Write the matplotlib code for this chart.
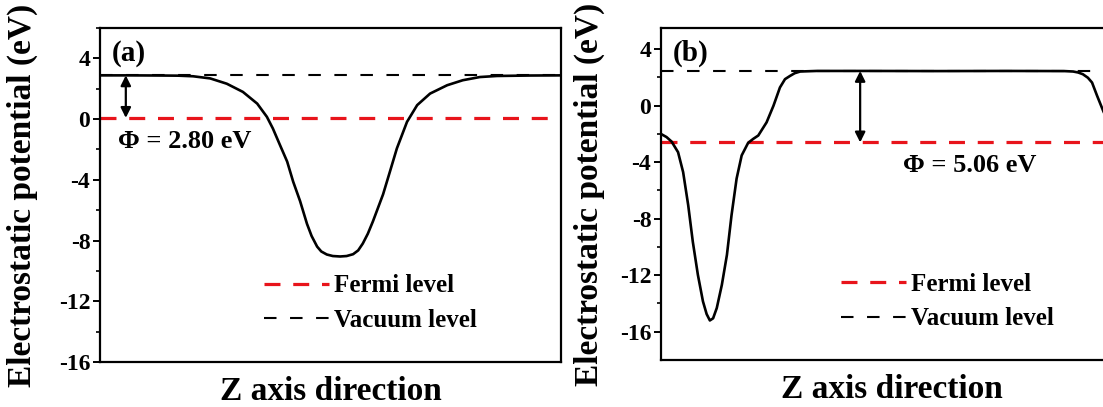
import matplotlib
matplotlib.use("Agg")
import matplotlib.pyplot as plt
from matplotlib.lines import Line2D

# ---------------- data ----------------
# panel (a)
xa = [0, 6.5, 13.0, 17.0, 20.2, 23.9, 27.5, 31.0, 34.1, 36.2, 37.5, 39.0, 40.6, 41.9,
      43.4, 44.9, 45.9, 47.1, 48.0, 49.2, 50.5, 52.1, 53.5, 54.9, 56.0, 57.0, 58.1,
      59.2, 61.4, 62.9, 64.4, 66.6, 68.8, 71.6, 75.3, 78.7, 82.4, 86.1, 93.3, 100]
ya = [2.88, 2.88, 2.87, 2.86, 2.82, 2.68, 2.33, 1.79, 1.02, 0.15, -0.62, -1.68, -2.80,
      -4.12, -5.40, -6.90, -7.70, -8.40, -8.72, -8.92, -9.02, -9.05, -9.02, -8.90,
      -8.65, -8.20, -7.55, -6.74, -4.96, -3.45, -1.93, -0.18, 0.92, 1.68, 2.23, 2.56,
      2.77, 2.84, 2.87, 2.88]
fermi_a = 0.08
vac_a = 2.88
phi_a = "Φ = 2.80 eV"

# panel (b)
xb = [0, 1.2, 2.3, 3.7, 4.8, 5.9, 6.9, 8.0, 9.1, 9.9, 10.6, 11.3, 12.1, 13.2, 14.3,
      15.3, 16.4, 17.5, 18.9, 20.0, 21.1, 22.9, 24.4, 25.8, 26.9, 28.0, 29.0, 30.2,
      33.8, 45.0, 60.0, 75.0, 87.5, 89.4, 90.5, 91.5, 92.6, 93.5, 94.6, 95.9, 97.0]
yb = [-2.0, -2.22, -2.54, -3.29, -4.70, -7.04, -9.63, -11.97, -13.85, -14.75, -15.20,
      -15.05, -14.32, -12.68, -10.56, -7.75, -5.16, -3.52, -2.63, -2.35, -2.11, -1.18,
      0.0, 1.29, 1.88, 2.11, 2.30, 2.42, 2.46, 2.46, 2.45, 2.46, 2.45, 2.42, 2.35, 2.23,
      1.98, 1.64, 0.70, -0.35, -1.2]
fermi_b = -2.60
vac_b = 2.46
phi_b = "Φ = 5.06 eV"

yticks_a = [4, 0, -4, -8, -12, -16]
yticks_b = [4, 0, -4, -8, -12, -16]
legend_labels = ["Fermi level", "Vacuum level"]
xlabel = "Z axis direction"
ylabel = "Electrostatic potential (eV)"

# ---------------- style ----------------
plt.rcParams['font.family'] = ['Liberation Serif', 'DejaVu Serif']
plt.rcParams['font.weight'] = 'bold'

W, H = 1103, 407
fig = plt.figure(figsize=(W / 100, H / 100), dpi=100)
fig.patch.set_facecolor('white')

axa = fig.add_axes([100 / W, (H - 362) / H, 461 / W, 334 / H])
axb = fig.add_axes([661 / W, (H - 360) / H, 461 / W, 332 / H])

RED = '#e8141b'


def style_axis(ax, ylim, yticks):
    ax.set_xlim(0, 100)
    ax.set_ylim(*ylim)
    ax.set_yticks(yticks)
    ax.set_yticklabels([str(t) for t in yticks])
    ax.set_yticks([t + 2 for t in yticks if ylim[0] <= t + 2 <= ylim[1]], minor=True)
    ax.set_xticks([])
    for s in ax.spines.values():
        s.set_linewidth(1.6)
    ax.tick_params(axis='y', which='major', direction='out', length=5, width=1.4,
                   labelsize=17, pad=2)
    ax.tick_params(axis='y', which='minor', direction='out', length=3, width=1.2)
    for lab in ax.get_yticklabels():
        lab.set_fontweight('bold')
    ax.set_xlabel(xlabel, fontsize=24, fontweight='bold', labelpad=10)
    ax.set_ylabel(ylabel, fontsize=24, fontweight='bold', labelpad=4)


def draw_panel(ax, x, y, fermi, vac, phi, label, arrow_x, phi_xy, leg_anchor):
    ax.axhline(fermi, color=RED, lw=2.3, dashes=(5, 4))
    ax.axhline(vac, color='black', lw=1.5, dashes=(6, 6.5))
    ax.plot(x, y, color='black', lw=1.9, solid_capstyle='round',
            solid_joinstyle='round')
    ax.annotate('', xy=(arrow_x, fermi), xytext=(arrow_x, vac),
                arrowprops=dict(arrowstyle='<|-|>', color='black', lw=1.6,
                                mutation_scale=15, shrinkA=0, shrinkB=0))
    ax.text(phi_xy[0], phi_xy[1], phi, fontsize=19, fontweight='bold',
            ha='left', va='center')
    ax.text(0.025, 0.925, label, transform=ax.transAxes, fontsize=21,
            fontweight='bold', ha='left', va='center')
    handles = [Line2D([], [], color=RED, lw=2.3, dashes=(5, 4)),
               Line2D([], [], color='black', lw=1.5, dashes=(6, 6.5))]
    ax.legend(handles, legend_labels, loc='upper left', bbox_to_anchor=leg_anchor,
              frameon=False, handlelength=2.6, handletextpad=0.2,
              labelspacing=0.45, borderpad=0, borderaxespad=0,
              prop=dict(weight='bold', size=18))


style_axis(axa, (-16, 6), yticks_a)
style_axis(axb, (-18, 5.5), yticks_b)

draw_panel(axa, xa, ya, fermi_a, vac_a, phi_a, '(a)', 5.6, (3.9, -1.45),
           (0.355, 0.262))
draw_panel(axb, xb, yb, fermi_b, vac_b, phi_b, '(b)', 43.2, (52.5, -4.2),
           (0.39, 0.262))

axa.yaxis.set_label_coords(-0.134, 0.5)
axb.yaxis.set_label_coords(-0.121, 0.5)

fig.savefig('out.png', dpi=100, facecolor='white')
